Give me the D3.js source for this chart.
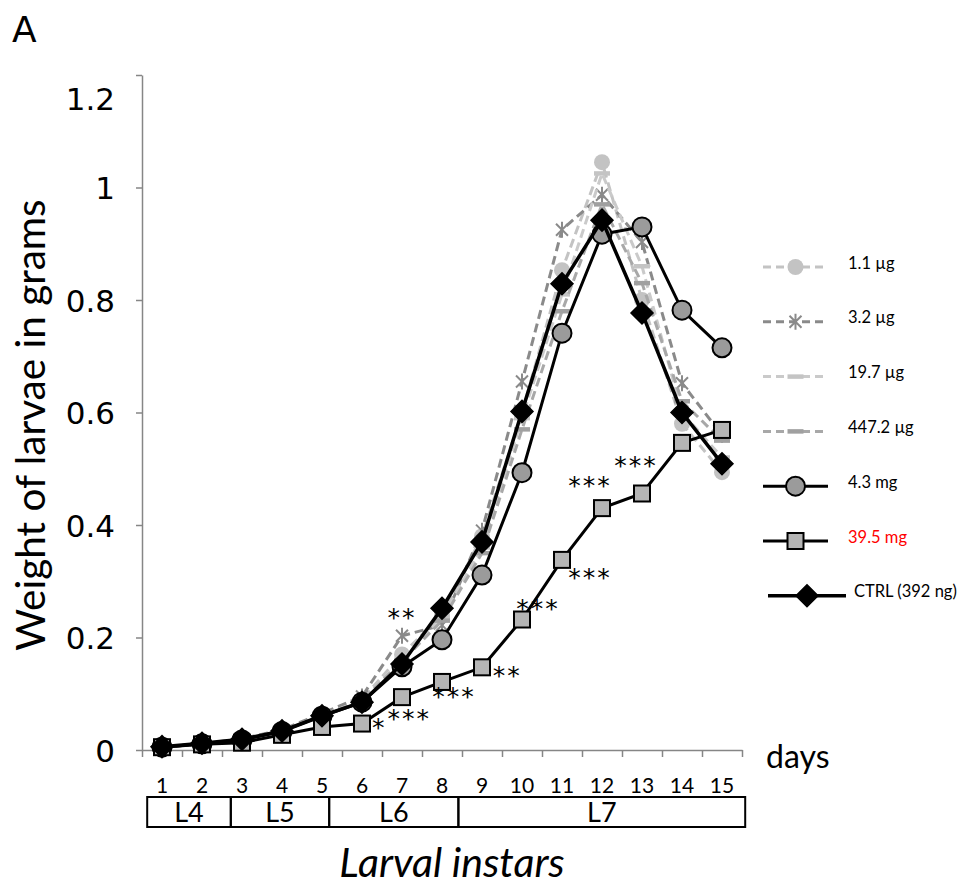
<!DOCTYPE html>
<html>
<head>
<meta charset="utf-8">
<script src="https://cdn.jsdelivr.net/npm/d3@7"></script>
<style>
  body { margin: 0; background: #fff; }
  svg { display: block; }
  .axis path, .axis line { stroke: #868686; stroke-width: 1.5; }
</style>
</head>
<body>
<div id="chart-area"></div>
<script>
const days = [1, 2, 3, 4, 5, 6, 7, 8, 9, 10, 11, 12, 13, 14, 15];
const yTicks = [0, 0.2, 0.4, 0.6, 0.8, 1, 1.2];

const dose1_1ug   = [0.005, 0.011, 0.019, 0.035, 0.063, 0.090, 0.170, 0.240, 0.380, 0.600, 0.853, 1.045, 0.800, 0.580, 0.494];
const dose3_2ug   = [0.005, 0.011, 0.020, 0.036, 0.065, 0.095, 0.203, 0.222, 0.390, 0.655, 0.925, 0.987, 0.903, 0.652, 0.560];
const dose19_7ug  = [0.005, 0.011, 0.019, 0.034, 0.062, 0.088, 0.160, 0.235, 0.360, 0.590, 0.810, 1.025, 0.860, 0.600, 0.520];
const dose447_2ug = [0.005, 0.011, 0.019, 0.034, 0.061, 0.087, 0.158, 0.230, 0.350, 0.570, 0.780, 0.970, 0.830, 0.620, 0.550];
const dose4_3mg   = [0.005, 0.011, 0.018, 0.033, 0.060, 0.085, 0.148, 0.196, 0.311, 0.493, 0.741, 0.917, 0.930, 0.782, 0.715];
const dose39_5mg  = [0.005, 0.010, 0.013, 0.027, 0.041, 0.047, 0.094, 0.121, 0.147, 0.232, 0.338, 0.430, 0.456, 0.546, 0.569];
const ctrl        = [0.006, 0.012, 0.019, 0.034, 0.061, 0.085, 0.153, 0.252, 0.370, 0.602, 0.829, 0.942, 0.777, 0.600, 0.509];

// significance marks: [day, weight, text]
const sigMarks = [
  [7.0, 0.245, "**"],
  [6.43, 0.050, "*"],
  [7.18, 0.066, "***"],
  [8.3, 0.105, "***"],
  [9.63, 0.142, "**"],
  [10.4, 0.261, "***"],
  [11.7, 0.316, "***"],
  [11.7, 0.480, "***"],
  [12.85, 0.516, "***"]
];

// larval instars with their limits in days
const instars = ["L4", "L5", "L6", "L7"];
const instarLimits = [0.63, 2.72, 5.18, 8.41, 15.58];

const series = [
  { name: "1.1 µg", values: dose1_1ug, color: "#c3c3c3", dash: "9,5", width: 3, marker: "circle", mfill: "#c3c3c3", mstroke: "none" },
  { name: "3.2 µg", values: dose3_2ug, color: "#8a8a8a", dash: "9,5", width: 3, marker: "star", mfill: "none", mstroke: "#8a8a8a" },
  { name: "19.7 µg", values: dose19_7ug, color: "#cacaca", dash: "9,5", width: 3, marker: "dash", mfill: "none", mstroke: "#c4c4c4" },
  { name: "447.2 µg", values: dose447_2ug, color: "#a8a8a8", dash: "9,5", width: 3, marker: "dash", mfill: "none", mstroke: "#a0a0a0" },
  { name: "4.3 mg", values: dose4_3mg, color: "#000", dash: null, width: 3, marker: "circle", mfill: "#9b9b9b", mstroke: "#000" },
  { name: "39.5 mg", values: dose39_5mg, color: "#000", dash: null, width: 3, marker: "square", mfill: "#b5b5b5", mstroke: "#000", label: "#ff0000" },
  { name: "CTRL (392 ng)", values: ctrl, color: "#000", dash: null, width: 3.5, marker: "diamond", mfill: "#000", mstroke: "#000" }
];

const chartSize = { width: 970, height: 887 };

const x = d3.scaleLinear().domain([0.5, 15.5]).range([142, 742]);
const y = d3.scaleLinear().domain([0, 1.2]).range([750, 75]);

const svg = d3.select("#chart-area")
  .append("svg")
  .attr("width", chartSize.width)
  .attr("height", chartSize.height);

const drawMarker = function(g, s, cx, cy) {
  if (s.marker === "circle") {
    const r = s.mstroke === "none" ? 8 : 9.5;
    g.append("circle").attr("cx", cx).attr("cy", cy).attr("r", r)
      .attr("fill", s.mfill).attr("stroke", s.mstroke).attr("stroke-width", 2);
  } else if (s.marker === "square") {
    g.append("rect").attr("x", cx - 8).attr("y", cy - 8).attr("width", 16).attr("height", 16)
      .attr("fill", s.mfill).attr("stroke", s.mstroke).attr("stroke-width", 2);
  } else if (s.marker === "diamond") {
    g.append("path")
      .attr("d", `M${cx},${cy - 11}L${cx + 11},${cy}L${cx},${cy + 11}L${cx - 11},${cy}Z`)
      .attr("fill", s.mfill).attr("stroke", s.mstroke).attr("stroke-width", 1.5);
  } else if (s.marker === "star") {
    g.append("path")
      .attr("d", `M${cx - 6},${cy - 6}L${cx + 6},${cy + 6}M${cx - 6},${cy + 6}L${cx + 6},${cy - 6}M${cx},${cy - 8}L${cx},${cy + 8}`)
      .attr("stroke", s.mstroke).attr("stroke-width", 2).attr("fill", "none");
  } else if (s.marker === "dash") {
    g.append("line").attr("x1", cx - 8).attr("x2", cx + 8).attr("y1", cy).attr("y2", cy)
      .attr("stroke", s.mstroke).attr("stroke-width", 4.5);
  }
};

// axes
const yAxis = d3.axisLeft(y)
  .tickValues(yTicks)
  .tickSize(6)
  .tickSizeOuter(0)
  .tickPadding(21)
  .tickFormat(d => d3.format("~g")(d));

const yG = svg.append("g")
  .attr("class", "axis")
  .attr("transform", "translate(142,0)")
  .call(yAxis);
yG.selectAll("text")
  .attr("font-family", "DejaVu Sans")
  .attr("font-size", 31)
  .attr("fill", "#000")
  .attr("dy", d => d === 1.2 ? "1.1em" : "0.36em");

const xAxis = d3.axisBottom(x)
  .tickValues(d3.range(0.5, 15.6, 1))
  .tickSize(7)
  .tickSizeOuter(0)
  .tickFormat("");

svg.append("g")
  .attr("class", "axis")
  .attr("transform", "translate(0,750)")
  .call(xAxis);

svg.append("g")
  .selectAll("text")
  .data(days)
  .join("text")
  .attr("x", d => x(d))
  .attr("y", 793)
  .attr("text-anchor", "middle")
  .attr("font-family", "Lato")
  .attr("font-size", 21)
  .text(d => d);

// lines
const line = d3.line()
  .x((v, i) => x(days[i]))
  .y(v => y(v));

series.forEach(s => {
  const g = svg.append("g");
  g.append("path")
    .attr("d", line(s.values))
    .attr("fill", "none")
    .attr("stroke", s.color)
    .attr("stroke-width", s.width)
    .attr("stroke-dasharray", s.dash);
  s.values.forEach((v, i) => drawMarker(g, s, x(days[i]), y(v)));
});

// significance stars
svg.append("g")
  .selectAll("text")
  .data(sigMarks)
  .join("text")
  .attr("x", d => x(d[0]))
  .attr("y", d => y(d[1]) + 14)
  .attr("text-anchor", "middle")
  .attr("font-family", "DejaVu Sans")
  .attr("font-size", 25)
  .attr("letter-spacing", 2)
  .attr("fill", "#000")
  .text(d => d[2]);

// legend (the last entry sits a little further right, as in the original)
const legend = svg.append("g");
series.forEach((s, i) => {
  const ly = 267 + i * 54.8;
  const last = i === series.length - 1;
  const x1 = last ? 768 : 763;
  const x2 = last ? 846 : 828;
  const g = legend.append("g");
  g.append("line")
    .attr("x1", x1).attr("x2", x2).attr("y1", ly).attr("y2", ly)
    .attr("stroke", s.color).attr("stroke-width", s.width)
    .attr("stroke-dasharray", s.dash ? "8,5" : null);
  drawMarker(g, s, (x1 + x2) / 2, ly);
  g.append("text")
    .attr("x", last ? 854 : 848).attr("y", ly)
    .attr("dy", "0.1em")
    .attr("font-family", "Lato")
    .attr("font-size", 16.5)
    .attr("fill", s.label || "#000")
    .text(s.name);
});

// instar boxes
const boxes = svg.append("g");
instars.forEach((name, i) => {
  const x0 = x(instarLimits[i]);
  const x1 = x(instarLimits[i + 1]);
  boxes.append("rect")
    .attr("x", x0).attr("y", 797)
    .attr("width", x1 - x0).attr("height", 30)
    .attr("fill", "none").attr("stroke", "#000").attr("stroke-width", 2);
  boxes.append("text")
    .attr("x", (x0 + x1) / 2).attr("y", 822)
    .attr("text-anchor", "middle")
    .attr("font-family", "Lato")
    .attr("font-size", 27)
    .text(name);
});

// titles
svg.append("text")
  .attr("transform", "translate(45,425) rotate(-90)")
  .attr("text-anchor", "middle")
  .attr("font-family", "Lato")
  .attr("font-size", 40.5)
  .text("Weight of larvae in grams");

svg.append("text")
  .attr("x", 452).attr("y", 877)
  .attr("text-anchor", "middle")
  .attr("font-family", "Lato")
  .attr("font-style", "italic")
  .attr("font-size", 41)
  .text("Larval instars");

svg.append("text")
  .attr("x", 766).attr("y", 768)
  .attr("font-family", "Lato")
  .attr("font-size", 32)
  .text("days");

svg.append("text")
  .attr("x", 12).attr("y", 42)
  .attr("font-family", "DejaVu Sans")
  .attr("font-size", 36)
  .text("A");
</script>
</body>
</html>
